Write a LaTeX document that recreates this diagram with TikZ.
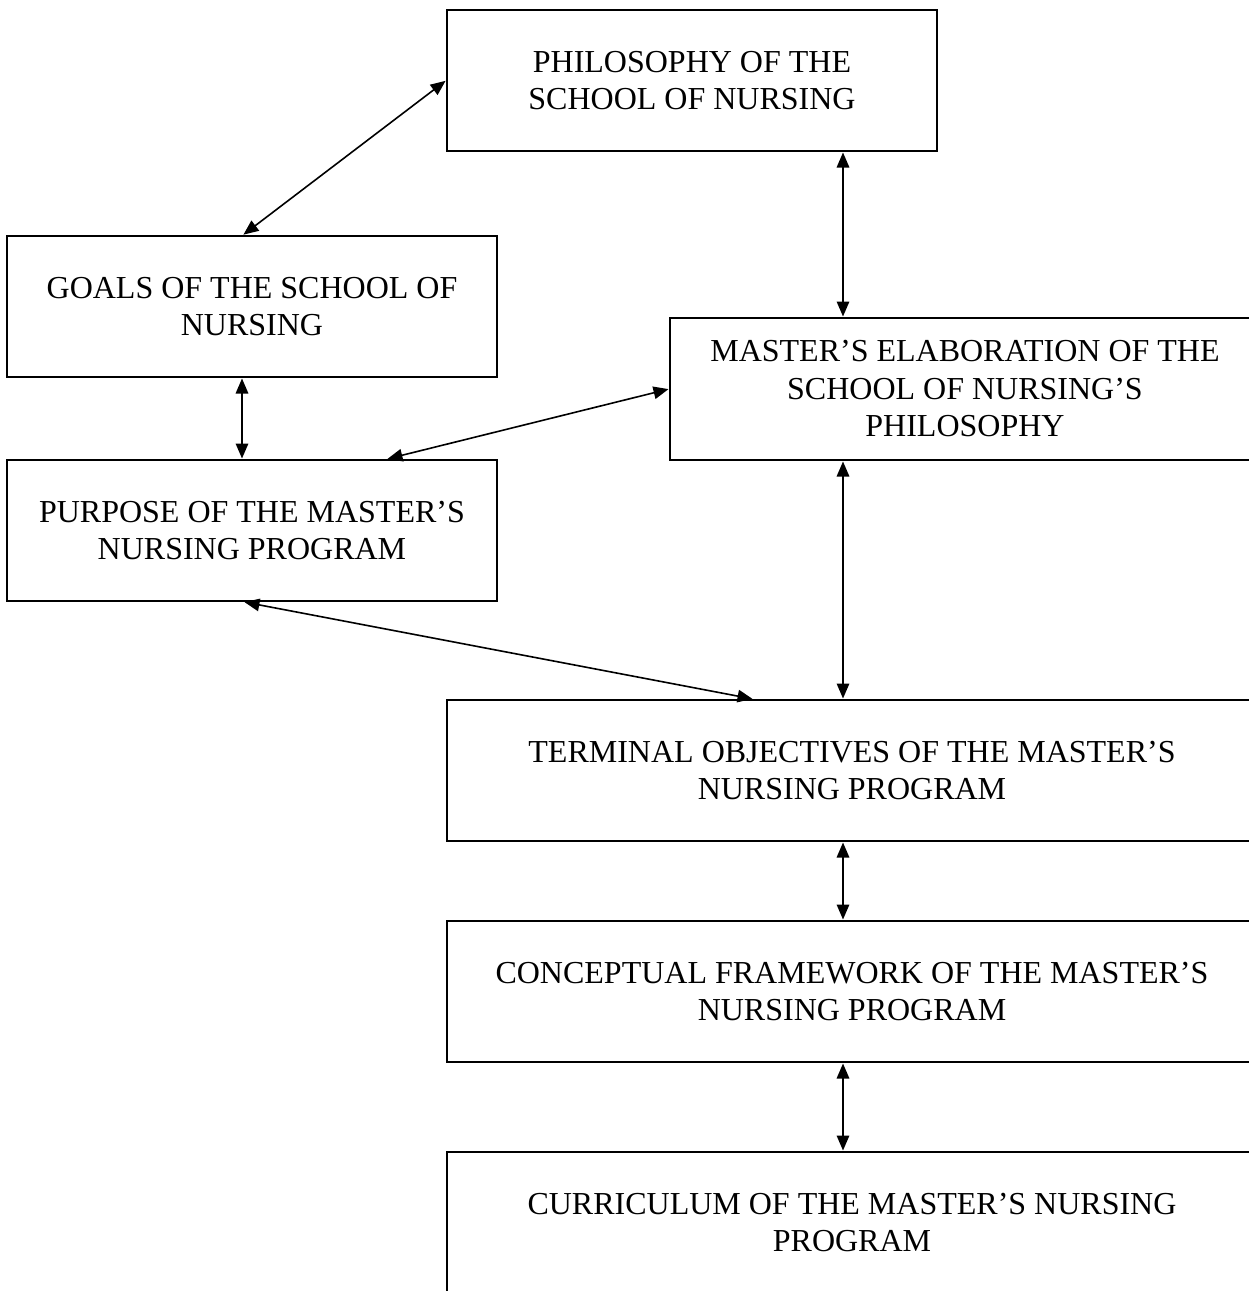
\documentclass[tikz,border=0pt]{standalone}
\usepackage{fontspec}
\setmainfont{Liberation Serif}
\usetikzlibrary{arrows.meta}
\tikzset{
  box/.style={draw, line width=2pt, minimum height=141pt, align=center, inner sep=0pt,
    font=\fontsize{32}{37.5}\selectfont},
  arr/.style={line width=1.6pt, {Triangle[length=15pt,width=12.5pt]}-{Triangle[length=15pt,width=12.5pt]}, shorten <=0.5pt, shorten >=0.5pt}
}
\begin{document}
\begin{tikzpicture}[x=1pt,y=-1pt]
\useasboundingbox (0,0) rectangle (1249,1291);
\fill[white] (0,0) rectangle (1249,1291);
\clip (0,0) rectangle (1249,1291);
\node[box, minimum width=490pt] (philo) at (692,80.5) {PHILOSOPHY OF THE\\SCHOOL OF NURSING};
\node[box, minimum width=490pt] (goals) at (252,306.5) {GOALS OF THE SCHOOL OF\\NURSING};
\node[box, minimum width=590pt, minimum height=142pt] (elab) at (965,389) {MASTER’S ELABORATION OF THE\\SCHOOL OF NURSING’S\\PHILOSOPHY};
\node[box, minimum width=490pt] (purpose) at (252,530.5) {PURPOSE OF THE MASTER’S\\NURSING PROGRAM};
\node[box, minimum width=810pt] (term) at (852,770.5) {TERMINAL OBJECTIVES OF THE MASTER’S\\NURSING PROGRAM};
\node[box, minimum width=810pt] (concept) at (852,991.5) {CONCEPTUAL FRAMEWORK OF THE MASTER’S\\NURSING PROGRAM};
\node[box, minimum width=810pt] (curric) at (852,1222.5) {CURRICULUM OF THE MASTER’S NURSING\\PROGRAM};
\coordinate (vx) at (843,0);
\draw[arr] ([xshift=-9pt]goals.north) -- (philo.west);
\draw[arr] (philo.south -| vx) -- (elab.north -| vx);
\draw[arr] ([xshift=-10pt]goals.south) -- ([xshift=-10pt]purpose.north);
\draw[arr] (elab.west) -- ([xshift=135pt]purpose.north);
\draw[arr] ([xshift=-8pt]purpose.south) -- ([xshift=-99pt]term.north);
\draw[arr] (elab.south -| vx) -- (term.north -| vx);
\draw[arr] (term.south -| vx) -- (concept.north -| vx);
\draw[arr] (concept.south -| vx) -- (curric.north -| vx);
\end{tikzpicture}
\end{document}
